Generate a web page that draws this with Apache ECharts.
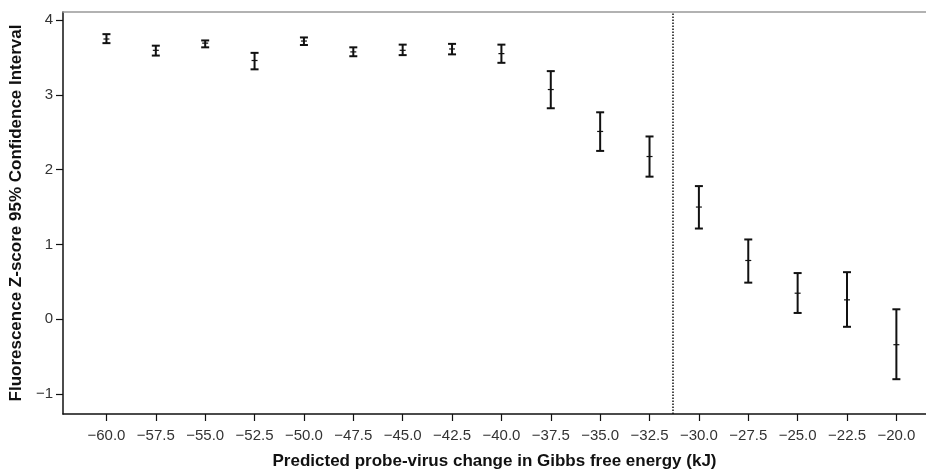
<!DOCTYPE html>
<html>
<head>
<meta charset="utf-8">
<script src="https://cdn.jsdelivr.net/npm/echarts@6/dist/echarts.min.js"></script>
<style>
  html,body{margin:0;padding:0;background:#fff;}
  #chart{width:926px;height:475px;}
</style>
</head>
<body>
<div id="chart"></div>
<script>
// predicted delta G bins (kJ)
const energy = [-60, -57.5, -55, -52.5, -50, -47.5, -45, -42.5, -40, -37.5, -35, -32.5, -30, -27.5, -25, -22.5, -20]
// z-score mean and 95% CI bounds
const zMean  = [3.745, 3.594, 3.69, 3.458, 3.718, 3.573, 3.594, 3.612, 3.55, 3.07, 2.51, 2.175, 1.5, 0.786, 0.349, 0.26, -0.339]
const zUpper = [3.81, 3.656, 3.726, 3.56, 3.766, 3.634, 3.67, 3.68, 3.67, 3.316, 2.766, 2.443, 1.78, 1.067, 0.618, 0.63, 0.134]
const zLower = [3.69, 3.524, 3.634, 3.34, 3.665, 3.515, 3.53, 3.54, 3.427, 2.82, 2.25, 1.906, 1.213, 0.49, 0.085, -0.10, -0.80]
const xTicks = [-60, -57.5, -55, -52.5, -50, -47.5, -45, -42.5, -40, -37.5, -35, -32.5, -30, -27.5, -25, -22.5, -20]
const yTicks = [-1, 0, 1, 2, 3, 4]
const cutoff = -31.3

const fmtMinus = s => String(s).replace('-', '\u2212')

let chart = echarts.init(document.getElementById('chart'))
let option = {
  backgroundColor:'#fff',
  animation:false,
  grid:{left:63, right:0, top:12, bottom:56},
  xAxis:[{
    type:'value',
    min:-62.2,
    max:-18.5,
    splitLine:{show:false},
    axisLine:{onZero:false, lineStyle:{color:'#111', width:1.5}},
    axisTick:{show:true, length:7, customValues:xTicks, lineStyle:{color:'#111', width:1.2}},
    axisLabel:{
      customValues:xTicks,
      margin:14,
      fontFamily:'Liberation Sans, Arial',
      fontSize:15,
      color:'#333',
      formatter:v => fmtMinus(v.toFixed(1))
    },
    name:'Predicted probe-virus change in Gibbs free energy (kJ)',
    nameLocation:'middle',
    nameGap:39,
    nameTextStyle:{fontFamily:'Liberation Sans, Arial', fontSize:17, fontWeight:'bold', color:'#111'}
  },{
    type:'value',
    position:'top',
    min:-62.2,
    max:-18.5,
    splitLine:{show:false},
    axisLine:{show:true, onZero:false, lineStyle:{color:'#999', width:1.5}},
    axisTick:{show:false},
    axisLabel:{show:false}
  }],
  yAxis:[{
    type:'value',
    min:-1.265,
    max:4.106,
    splitLine:{show:false},
    axisLine:{show:true, onZero:false, lineStyle:{color:'#111', width:1.5}},
    axisTick:{show:true, length:7, customValues:yTicks, lineStyle:{color:'#111', width:1.2}},
    axisLabel:{
      customValues:yTicks,
      margin:10,
      fontFamily:'Liberation Sans, Arial',
      fontSize:15,
      color:'#333',
      formatter:v => fmtMinus(v)
    },
    name:'Fluorescence Z-score 95% Confidence Interval',
    nameLocation:'middle',
    nameGap:36,
    nameTextStyle:{fontFamily:'Liberation Sans, Arial', fontSize:17, fontWeight:'bold', color:'#111'}
  }],
  series:[{
    type:'custom',
    data:energy.map((x,i)=>[x, zLower[i], zMean[i], zUpper[i]]),
    renderItem:(params, api)=>{
      let x = api.value(0)
      let lo = api.coord([x, api.value(1)])
      let mid = api.coord([x, api.value(2)])
      let hi = api.coord([x, api.value(3)])
      let cap = 4, tick = 3
      let style = {stroke:'#111', lineWidth:2}
      return {
        type:'group',
        children:[
          {type:'line', shape:{x1:hi[0], y1:hi[1], x2:lo[0], y2:lo[1]}, style},
          {type:'line', shape:{x1:hi[0]-cap, y1:hi[1], x2:hi[0]+cap, y2:hi[1]}, style},
          {type:'line', shape:{x1:lo[0]-cap, y1:lo[1], x2:lo[0]+cap, y2:lo[1]}, style},
          {type:'line', shape:{x1:mid[0]-tick, y1:mid[1], x2:mid[0]+tick, y2:mid[1]}, style:{stroke:'#111', lineWidth:1.2}}
        ]
      }
    },
    markLine:{
      silent:true,
      symbol:'none',
      label:{show:false},
      lineStyle:{color:'#111', type:'dotted', width:1.5},
      data:[{xAxis:cutoff}]
    }
  }]
}
chart.setOption(option)
</script>
</body>
</html>
